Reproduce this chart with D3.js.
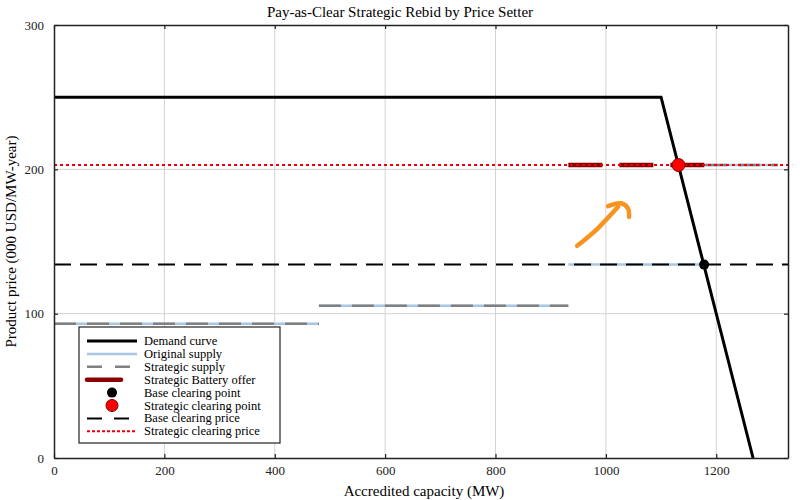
<!DOCTYPE html>
<html>
<head>
<meta charset="utf-8">
<script src="https://cdn.jsdelivr.net/npm/d3@7"></script>
<style>
  body { margin: 0; background: #fff; }
  svg { font-family: "Liberation Serif", "Times New Roman", serif; }
</style>
</head>
<body>
<div id="chart"></div>
<script>
// Données
const stepStart = [0, 480, 932, 1180]
const stepEnd = [480, 932, 1180, 1312]
const originalPrice = [93, 105.5, 134, 203]
const strategicPrice = [93, 105.5, 203, 203]
const batteryStep = 2

const demandQty = [0, 1100, 1266.7]
const demandPrice = [250, 250, 0]

const baseClearing = [1178, 134]
const strategicClearing = [1131.5, 203]

const xTicks = [0, 200, 400, 600, 800, 1000, 1200]
const yTicks = [0, 100, 200, 300]

// flèche orange (en unités des données)
const arrowShaft = [[948, 147], [985, 159], [1022, 174]]
const arrowHead = [[1004, 174.5], [1027, 176.5], [1040, 173], [1042, 167]]

const legendItems = [
    'Demand curve', 'Original supply', 'Strategic supply', 'Strategic Battery offer',
    'Base clearing point', 'Strategic clearing point', 'Base clearing price', 'Strategic clearing price'
]

// Dimensions
const width = 800, height = 500
const margin = { top: 25, right: 12, bottom: 42, left: 54 }

const svg = d3.select('#chart')
    .append('svg')
    .attr('width', width)
    .attr('height', height)

const x = d3.scaleLinear().domain([0, 1330]).range([margin.left, width - margin.right])
const y = d3.scaleLinear().domain([0, 300]).range([height - margin.bottom, margin.top])

// Grille
svg.append('g').selectAll('line')
    .data(xTicks.slice(1))
    .join('line')
    .attr('x1', d => x(d)).attr('x2', d => x(d))
    .attr('y1', y(0)).attr('y2', y(300))
    .attr('stroke', '#d2d2d2').attr('stroke-width', 1)

svg.append('g').selectAll('line')
    .data(yTicks.slice(1, -1))
    .join('line')
    .attr('y1', d => y(d)).attr('y2', d => y(d))
    .attr('x1', x(0)).attr('x2', x(1330))
    .attr('stroke', '#d2d2d2').attr('stroke-width', 1)

// Offres d'origine
const steps = stepStart.map((s, i) => ({ s, e: stepEnd[i], orig: originalPrice[i], strat: strategicPrice[i] }))

svg.append('g').selectAll('line')
    .data(steps)
    .join('line')
    .attr('x1', d => x(d.s)).attr('x2', d => x(d.e))
    .attr('y1', d => y(d.orig)).attr('y2', d => y(d.orig))
    .attr('stroke', '#a7c6e3').attr('stroke-width', 2.5)

// Offres stratégiques
svg.append('g').selectAll('line')
    .data(steps.filter((d, i) => i !== batteryStep))
    .join('line')
    .attr('x1', d => x(d.s)).attr('x2', d => x(d.e))
    .attr('y1', d => y(d.strat)).attr('y2', d => y(d.strat))
    .attr('stroke', '#808080').attr('stroke-width', 2.5)
    .attr('stroke-dasharray', '22 11')

// Offre de la batterie
const bat = steps[batteryStep]
svg.append('line')
    .attr('x1', x(bat.s)).attr('x2', x(bat.e))
    .attr('y1', y(bat.strat)).attr('y2', y(bat.strat))
    .attr('stroke', '#8b0000').attr('stroke-width', 4.5)
    .attr('stroke-dasharray', '34 17')

// Courbe de demande
svg.append('path')
    .datum(demandQty.map((q, i) => [q, demandPrice[i]]))
    .attr('d', d3.line().x(d => x(d[0])).y(d => y(d[1])))
    .attr('fill', 'none')
    .attr('stroke', '#000')
    .attr('stroke-width', 3)

// Prix de clôture
svg.append('line')
    .attr('x1', x(0)).attr('x2', x(1330))
    .attr('y1', y(baseClearing[1])).attr('y2', y(baseClearing[1]))
    .attr('stroke', '#000').attr('stroke-width', 2)
    .attr('stroke-dasharray', '17 9')

svg.append('line')
    .attr('x1', x(0)).attr('x2', x(1330))
    .attr('y1', y(strategicClearing[1])).attr('y2', y(strategicClearing[1]))
    .attr('stroke', '#e8000b').attr('stroke-width', 2)
    .attr('stroke-dasharray', '3 3')

// Points de clôture
svg.append('circle')
    .attr('cx', x(baseClearing[0])).attr('cy', y(baseClearing[1]))
    .attr('r', 5).attr('fill', '#000')

svg.append('circle')
    .attr('cx', x(strategicClearing[0])).attr('cy', y(strategicClearing[1]))
    .attr('r', 6.5).attr('fill', '#ff0000')
    .attr('stroke', '#7a0000').attr('stroke-width', 1)

// Flèche orange
const arrowLine = d3.line().x(d => x(d[0])).y(d => y(d[1])).curve(d3.curveCatmullRom)
svg.append('path')
    .attr('d', arrowLine(arrowShaft))
    .attr('fill', 'none').attr('stroke', '#f7931e')
    .attr('stroke-width', 4.5).attr('stroke-linecap', 'round')
svg.append('path')
    .attr('d', arrowLine(arrowHead))
    .attr('fill', 'none').attr('stroke', '#f7931e')
    .attr('stroke-width', 4.5).attr('stroke-linecap', 'round')

// Axes (ticks vers l'intérieur, sur les quatre côtés)
const tickLen = 4
svg.append('g')
    .attr('transform', `translate(0, ${y(0)})`)
    .call(d3.axisBottom(x).tickValues(xTicks).tickFormat(d3.format('d')).tickSizeInner(-tickLen).tickSizeOuter(0).tickPadding(8))
svg.append('g')
    .attr('transform', `translate(0, ${y(300)})`)
    .call(d3.axisTop(x).tickValues(xTicks).tickSizeInner(-tickLen).tickSizeOuter(0).tickFormat(''))
svg.append('g')
    .attr('transform', `translate(${x(0)}, 0)`)
    .call(d3.axisLeft(y).tickValues(yTicks).tickSizeInner(-tickLen).tickSizeOuter(0).tickPadding(10))
svg.append('g')
    .attr('transform', `translate(${x(1330)}, 0)`)
    .call(d3.axisRight(y).tickValues(yTicks).tickSizeInner(-tickLen).tickSizeOuter(0).tickFormat(''))

svg.selectAll('.domain').attr('stroke', '#222').attr('stroke-width', 1.5)
svg.selectAll('.tick line').attr('stroke', '#222').attr('stroke-width', 1.2)
svg.selectAll('.tick text')
    .attr('font-family', '"Liberation Serif", serif')
    .attr('font-size', 13)
    .attr('fill', '#222')

// Titre et libellés
svg.append('text')
    .attr('x', width / 2).attr('y', 17)
    .attr('text-anchor', 'middle')
    .attr('font-size', 15)
    .text('Pay-as-Clear Strategic Rebid by Price Setter')

svg.append('text')
    .attr('x', (x(0) + x(1330)) / 2 + 3).attr('y', 496)
    .attr('text-anchor', 'middle')
    .attr('font-size', 15)
    .text('Accredited capacity (MW)')

svg.append('text')
    .attr('transform', `translate(16, ${(y(0) + y(300)) / 2}) rotate(-90)`)
    .attr('text-anchor', 'middle')
    .attr('font-size', 15)
    .text('Product price (000 USD/MW-year)')

// Légende
const legend = svg.append('g').attr('transform', 'translate(79, 327)')
legend.append('rect')
    .attr('width', 201).attr('height', 116)
    .attr('fill', '#fff').attr('stroke', '#222').attr('stroke-width', 1.2)

const rowY = i => 14 + i * 12.9
const lx1 = 8, lx2 = 58, lmid = 33

legend.append('line').attr('x1', lx1).attr('x2', lx2).attr('y1', rowY(0)).attr('y2', rowY(0))
    .attr('stroke', '#000').attr('stroke-width', 3)
legend.append('line').attr('x1', lx1).attr('x2', lx2).attr('y1', rowY(1)).attr('y2', rowY(1))
    .attr('stroke', '#a7c6e3').attr('stroke-width', 2.5)
legend.append('line').attr('x1', lx1).attr('x2', lx2).attr('y1', rowY(2)).attr('y2', rowY(2))
    .attr('stroke', '#808080').attr('stroke-width', 2.5).attr('stroke-dasharray', '15 13')
legend.append('line').attr('x1', lx1).attr('x2', lx1 + 34).attr('y1', rowY(3)).attr('y2', rowY(3))
    .attr('stroke', '#8b0000').attr('stroke-width', 4.5).attr('stroke-linecap', 'round')
legend.append('circle').attr('cx', lmid).attr('cy', rowY(4)).attr('r', 5).attr('fill', '#000')
legend.append('circle').attr('cx', lmid).attr('cy', rowY(5)).attr('r', 6)
    .attr('fill', '#ff0000').attr('stroke', '#7a0000').attr('stroke-width', 1)
legend.append('line').attr('x1', lx1).attr('x2', lx2).attr('y1', rowY(6)).attr('y2', rowY(6))
    .attr('stroke', '#000').attr('stroke-width', 2).attr('stroke-dasharray', '15 12')
legend.append('line').attr('x1', lx1).attr('x2', lx2).attr('y1', rowY(7)).attr('y2', rowY(7))
    .attr('stroke', '#e8000b').attr('stroke-width', 2).attr('stroke-dasharray', '3 2')

legend.selectAll('text.lbl')
    .data(legendItems)
    .join('text')
    .attr('class', 'lbl')
    .attr('x', 65)
    .attr('y', (d, i) => rowY(i) + 4)
    .attr('font-size', 12.5)
    .text(d => d)
</script>
</body>
</html>
